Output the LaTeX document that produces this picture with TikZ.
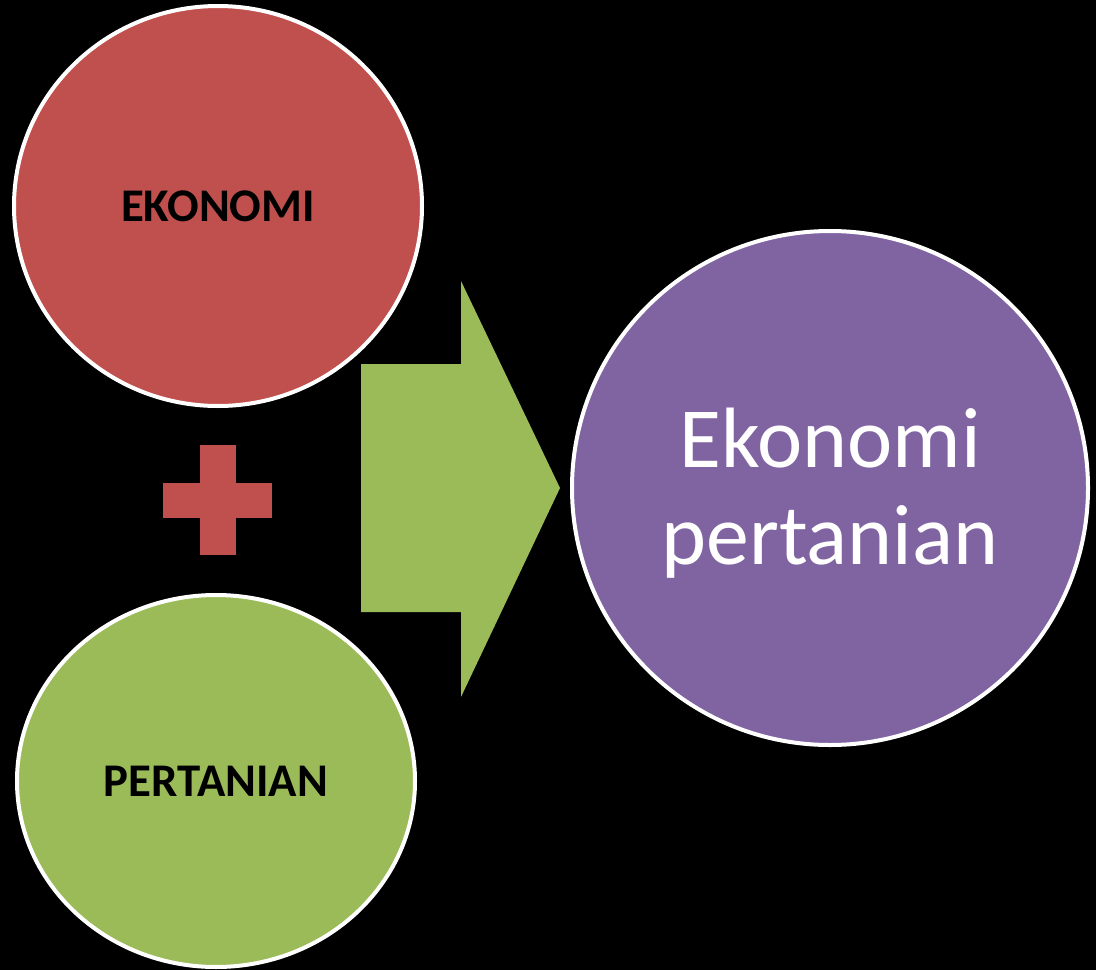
\documentclass[tikz,border=0pt]{standalone}
\usepackage{fontspec}
\setmainfont{Carlito}
\definecolor{cred}{HTML}{C0504D}
\definecolor{cgreen}{HTML}{9BBB59}
\definecolor{cpurple}{HTML}{8064A2}
\begin{document}
\begin{tikzpicture}[x=1bp,y=-1bp,
  blob/.style={draw=white,line width=4bp}]
\fill[black] (0,0) rectangle (1096,970);
\useasboundingbox (0,0) rectangle (1096,970);
\filldraw[blob,fill=cred] (218,206) ellipse [x radius=204,y radius=200];
\node[font=\bfseries\fontsize{47}{50}\selectfont,text=black] (eko) at (218,206) {EKONOMI};
\filldraw[blob,fill=cgreen] (216,781) ellipse [x radius=199,y radius=186];
\node[font=\bfseries\fontsize{47}{50}\selectfont,text=black] (per) at (216,781) {PERTANIAN};
\filldraw[blob,fill=cpurple] (830,488) ellipse [x radius=258,y radius=257];
\node[font=\fontsize{86}{97}\selectfont,text=white,align=center] (res) at (830,493) {Ekonomi\\pertanian};
\fill[cred] (200,445) rectangle (236,555);
\fill[cred] (163,483) rectangle (272,518);
\fill[cgreen] (361,364) -- (461,364) -- (461,281) -- (560,488) -- (461,697) -- (461,612) -- (361,612) -- cycle;
\end{tikzpicture}
\end{document}
